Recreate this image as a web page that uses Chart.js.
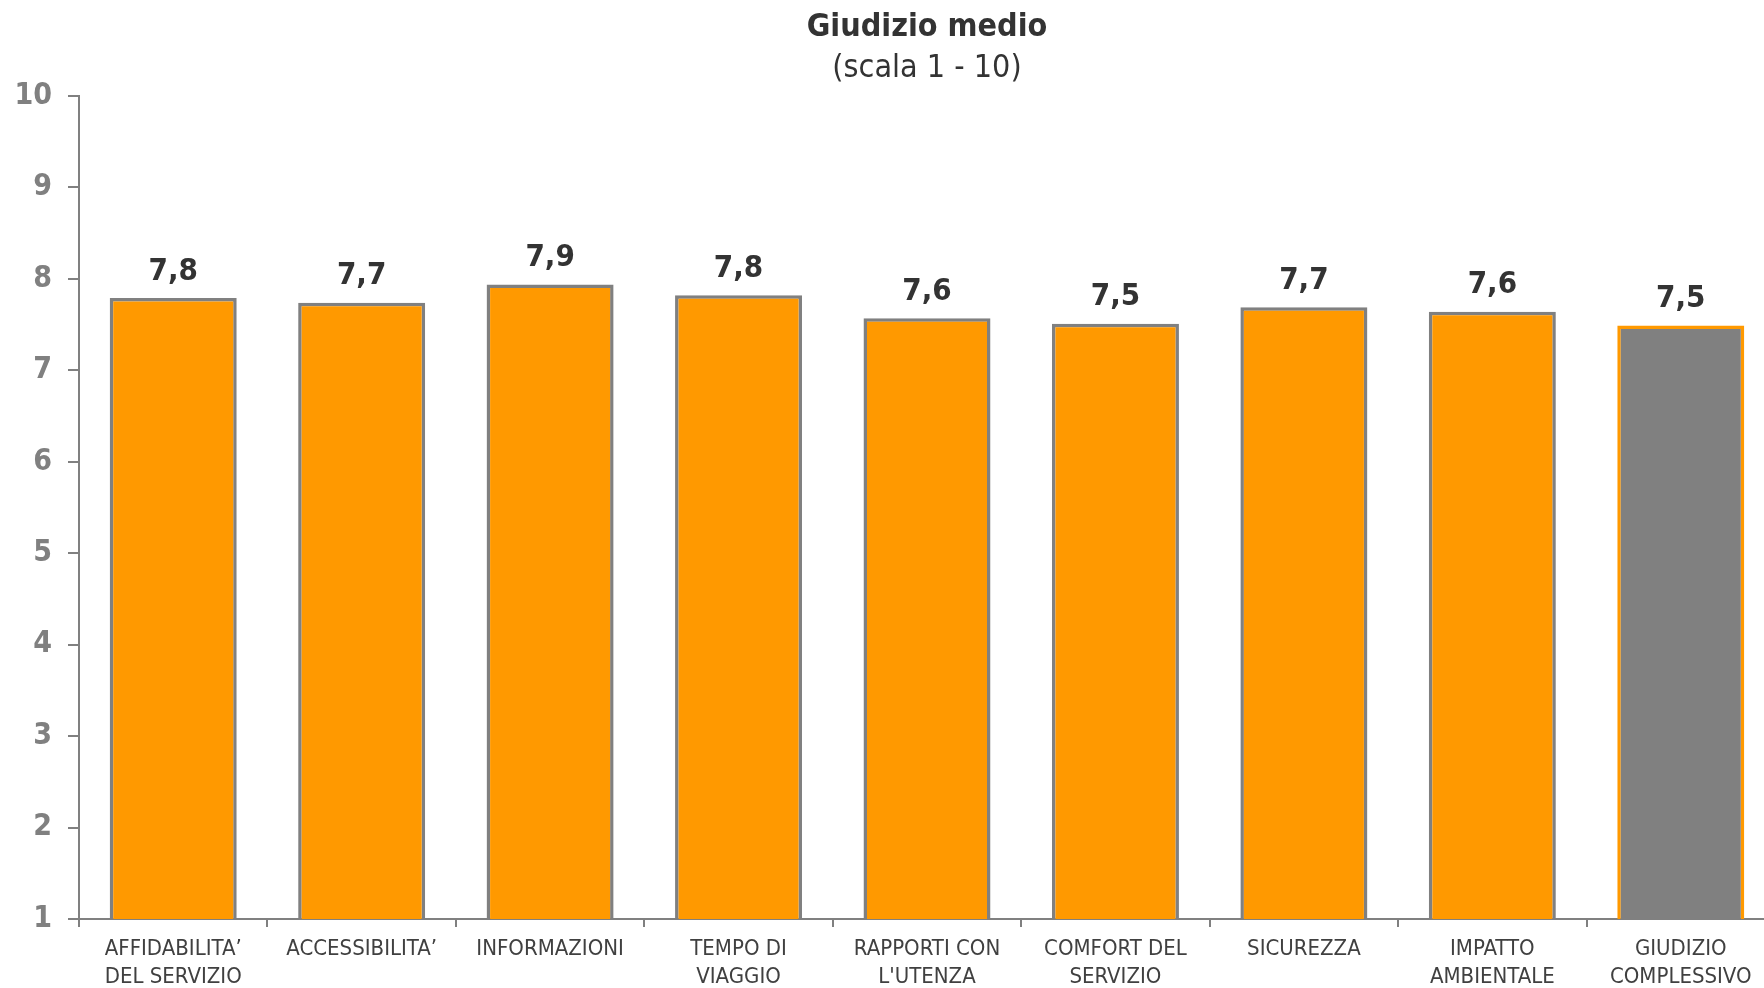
<!DOCTYPE html>
<html>
<head>
<meta charset="utf-8">
<script src="https://cdn.jsdelivr.net/npm/chart.js@4"></script>
<style>
  html, body { margin: 0; padding: 0; background: #fff; overflow: hidden; }
  #wrap { width: 1764px; height: 988px; overflow: hidden; }
</style>
</head>
<body>
<div id="wrap"><canvas id="chart" width="1848" height="988"></canvas></div>
<script>
// categorie e valori medi (scala 1 - 10)
const categories = [
  ["AFFIDABILITA’", "DEL SERVIZIO"],
  "ACCESSIBILITA’",
  "INFORMAZIONI",
  ["TEMPO DI", "VIAGGIO"],
  ["RAPPORTI CON", "L'UTENZA"],
  ["COMFORT DEL", "SERVIZIO"],
  "SICUREZZA",
  ["IMPATTO", "AMBIENTALE"],
  ["GIUDIZIO", "COMPLESSIVO"]
];
const values = [7.79, 7.74, 7.94, 7.82, 7.57, 7.51, 7.69, 7.64, 7.49];
const yTicks = [1, 2, 3, 4, 5, 6, 7, 8, 9, 10];
const titleText = "Giudizio medio";
const subtitleText = "(scala 1 - 10)";

const ORANGE = "#FF9900";
const GREY = "#808080";
const FONT = "'DejaVu Sans Condensed', 'DejaVu Sans', sans-serif";

// l'ultima barra (giudizio complessivo) e' grigia con bordo arancio
const fills = values.map((v, i) => (i === values.length - 1 ? GREY : ORANGE));
const borders = values.map((v, i) => (i === values.length - 1 ? ORANGE : GREY));

// titolo centrato sull'area del grafico + etichette sopra le barre
const valueLabels = {
  id: "valueLabels",
  afterDatasetsDraw(chart) {
    const ctx = chart.ctx;
    const area = chart.chartArea;
    const cx = (area.left + area.right) / 2;
    ctx.save();
    ctx.fillStyle = "#333333";
    ctx.textAlign = "center";
    ctx.textBaseline = "middle";
    ctx.font = "bold 32px " + FONT;
    ctx.fillText(titleText, cx, 27.5);
    ctx.font = "32px " + FONT;
    ctx.fillText(subtitleText, cx, 69);

    ctx.font = "bold 31px " + FONT;
    ctx.textBaseline = "bottom";
    chart.getDatasetMeta(0).data.forEach((bar, i) => {
      const txt = values[i].toFixed(1).replace(".", ",");
      ctx.fillText(txt, bar.x, bar.y - 11);
    });
    ctx.restore();
  }
};

new Chart(document.getElementById("chart"), {
  type: "bar",
  data: {
    labels: categories,
    datasets: [{
      data: values,
      backgroundColor: fills,
      borderColor: borders,
      borderWidth: 3.5,
      borderSkipped: false,
      categoryPercentage: 1,
      barPercentage: 0.674
    }]
  },
  options: {
    responsive: false,
    animation: false,
    layout: { padding: { left: 0, right: 73, top: 96, bottom: 0 } },
    plugins: {
      legend: { display: false },
      tooltip: { enabled: false },
      title: { display: false }
    },
    scales: {
      x: {
        afterFit(scale) { scale.height = 69; },
        grid: { drawOnChartArea: false, offset: true, tickLength: 8, color: GREY, lineWidth: 2 },
        border: { color: GREY, width: 2 },
        ticks: {
          color: "#404040",
          padding: 8,
          maxRotation: 0,
          autoSkip: false,
          font: { family: FONT, size: 22, lineHeight: 1.27 }
        }
      },
      y: {
        min: 1,
        max: 10,
        afterFit(scale) { scale.width = 79; },
        afterBuildTicks(scale) { scale.ticks = yTicks.map(v => ({ value: v })); },
        grid: { drawOnChartArea: false, tickLength: 11, color: GREY, lineWidth: 2 },
        border: { color: GREY, width: 2 },
        ticks: {
          color: GREY,
          padding: 16,
          font: { family: FONT, size: 30, weight: "bold" }
        }
      }
    }
  },
  plugins: [valueLabels]
});
</script>
</body>
</html>
